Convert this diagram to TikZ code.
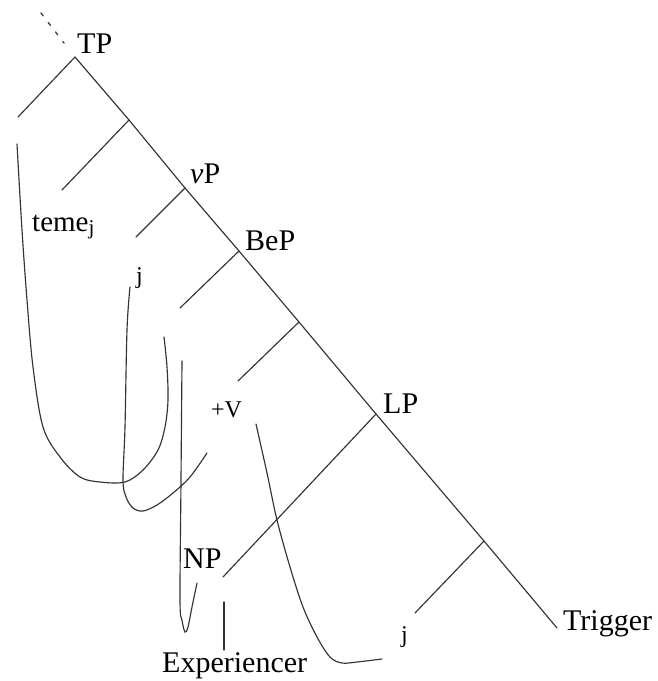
\documentclass[tikz,border=0pt]{standalone}
\usepackage{fontspec}
\setmainfont{Liberation Serif}
\begin{document}
\begin{tikzpicture}[x=1pt,y=-1pt,
  ln/.style={draw=black!80,line width=1.15pt,line cap=round},
  big/.style={inner sep=0pt,anchor=base west,font=\fontsize{30}{30}\selectfont},
  mid/.style={inner sep=0pt,anchor=base west,font=\fontsize{29}{29}\selectfont},
  sml/.style={inner sep=0pt,anchor=base west,font=\fontsize{24}{24}\selectfont},
  curve/.style={ln,smooth,tension=0.55}]
\useasboundingbox (0,0) rectangle (657,681);
% spine points
\coordinate (tp) at (75,57);
\coordinate (s1) at (129,120);
\coordinate (vp) at (185,188);
\coordinate (bep) at (239,251);
\coordinate (s4) at (299,322);
\coordinate (lp) at (376,414);
\coordinate (s6) at (484,541);
\coordinate (tr) at (557,628);
% left daughters
\coordinate (l0) at (18,117);
\coordinate (l1) at (62,190);
\coordinate (l2) at (136,237);
\coordinate (l3) at (180,308);
\coordinate (l4) at (238,381);
\coordinate (l5) at (223,577);
\coordinate (l6) at (415,613);
% spine
\draw[ln] (tp) -- (s1) -- (vp) -- (bep) -- (s4) -- (lp) -- (s6) -- (tr);
\draw[ln] (tp) -- (l0);
\draw[ln] (s1) -- (l1);
\draw[ln] (vp) -- (l2);
\draw[ln] (bep) -- (l3);
\draw[ln] (s4) -- (l4);
\draw[ln] (lp) -- (l5);
\draw[ln] (s6) -- (l6);
% dotted continuation above TP
\coordinate (d0) at (41,13);
\coordinate (d1) at (64,43);
\draw[ln,line width=1.5pt,dash pattern=on 3.5pt off 8.5pt,black!70] (d0) -- (d1);
% labels
\node[big] (TP) at (77,53) {TP};
\node[big] (vP) at (190,183) {\textit{v}P};
\node[big] (BeP) at (245,250) {BeP};
\node[big] (LP) at (383,413) {LP};
\node[big] (Trig) at (563,630) {Trigger};
\node[big] (NP) at (183,568) {NP};
\node[big] (Exp) at (162,672) {Experiencer};
\node[mid] (teme) at (32,231) {teme\raisebox{-0.3ex}{\fontsize{21}{21}\selectfont j}};
\node[sml] (j1) at (136,283) {j};
\node[sml] (pv) at (211,417) {+V};
\node[sml] (j2) at (401,642) {j};
% vertical under NP
\coordinate (e1) at (224,602);
\coordinate (e2) at (224,650);
\draw[ln] (e1) -- (e2);
% curves
\draw[curve] plot coordinates {(17,144) (22,230) (27,300) (33,367) (43,427) (60,457) (80,477) (100,482) (125,482) (143,470) (158,450) (165,427) (168,400) (167,367) (164,337)};
\draw[curve] plot coordinates {(130,287) (127,330) (125,427) (123,480) (126,497) (133,508) (143,511) (157,505) (173,493) (190,477) (207,453)};
\draw[curve] plot coordinates {(182,361) (181,480) (180,600) (182,620) (185,632) (188,627) (192,607) (197,583)};
\draw[curve] plot coordinates {(256,424) (267,473) (277,520) (290,567) (303,607) (317,637) (330,657) (342,663) (357,662) (382,659)};
\end{tikzpicture}
\end{document}
